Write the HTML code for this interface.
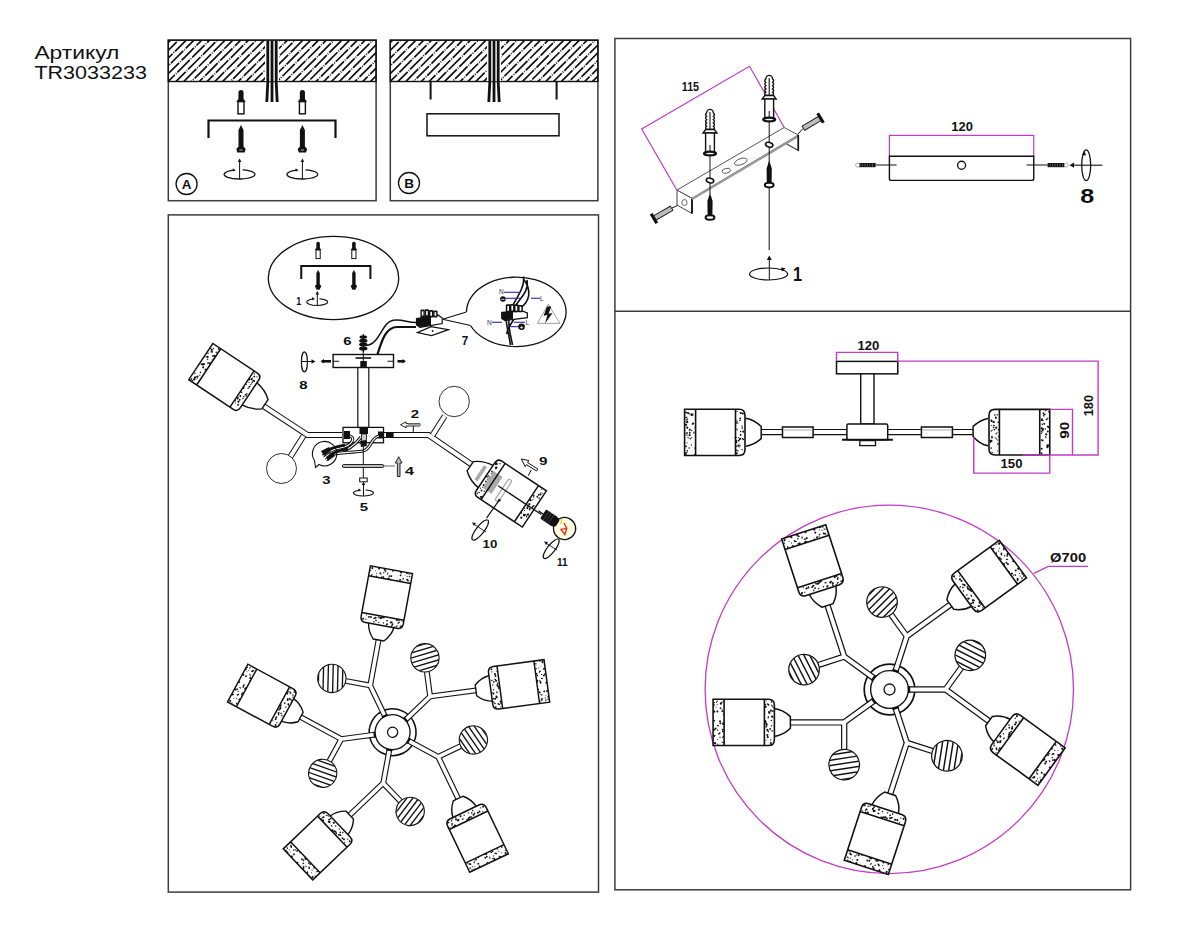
<!DOCTYPE html>
<html><head><meta charset="utf-8">
<style>
html,body{margin:0;padding:0;background:#fff;width:1200px;height:933px;overflow:hidden}
svg{display:block}
text{font-family:"Liberation Sans",sans-serif}
</style></head><body>
<svg width="1200" height="933" viewBox="0 0 1200 933">
<defs>
<pattern id="hatch" patternUnits="userSpaceOnUse" width="5.5" height="5.5" patternTransform="rotate(45)">
<line x1="1" y1="0" x2="1" y2="5.5" stroke="#111" stroke-width="1.5"/>
</pattern>
<g id="anchorUp">
<path d="M-2.2,7 L-2.2,-3 A2.2,2.2 0 0 1 2.2,-3 L2.2,7 Z" fill="#111"/>
<path d="M-3.6,10 L0,5 L3.6,10 Z" fill="#fff" stroke="#111" stroke-width="1.2"/>
<rect x="-2.6" y="10" width="5.2" height="14" fill="#fff" stroke="#111" stroke-width="1.4"/>
</g>
<g id="screwDown">
<path d="M0,0 L1.8,4 L1.8,22 L4,25 L3,28 L-3,28 L-4,25 L-1.8,22 L-1.8,4 Z" fill="#111"/>
</g>
<g id="rotArrow">
<ellipse cx="0" cy="0" rx="15" ry="4.6" fill="none" stroke="#111" stroke-width="1.2"/>
<line x1="0" y1="4.6" x2="0" y2="-14" stroke="#111" stroke-width="1.1"/>
<path d="M-2.2,-12 L0,-16 L2.2,-12 Z" fill="#111"/>
</g>
<!--CHDEFS-->
<pattern id="stip" patternUnits="userSpaceOnUse" width="24" height="24"><g fill="#111"><circle cx="7.8" cy="3.6" r="1.14"/><circle cx="1.7" cy="12.9" r="0.97"/><circle cx="1.4" cy="12.2" r="0.77"/><circle cx="10.4" cy="1.7" r="0.80"/><circle cx="10.2" cy="19.8" r="0.82"/><circle cx="5.4" cy="15.1" r="1.32"/><circle cx="13.9" cy="9.5" r="1.34"/><circle cx="1.1" cy="20.6" r="0.92"/><circle cx="3.5" cy="2.8" r="0.94"/><circle cx="19.6" cy="4.3" r="1.10"/><circle cx="15.3" cy="8.9" r="1.08"/><circle cx="1.5" cy="1.4" r="0.87"/><circle cx="16.3" cy="10.3" r="0.94"/><circle cx="14.1" cy="10.9" r="0.93"/><circle cx="19.1" cy="16.8" r="0.90"/><circle cx="13.8" cy="12.6" r="1.28"/><circle cx="17.5" cy="6.9" r="1.34"/><circle cx="2.8" cy="10.0" r="1.20"/><circle cx="3.6" cy="11.7" r="0.77"/><circle cx="16.0" cy="18.3" r="1.09"/><circle cx="21.0" cy="7.5" r="1.17"/><circle cx="14.3" cy="13.9" r="1.02"/><circle cx="20.2" cy="22.7" r="1.03"/><circle cx="15.9" cy="1.5" r="1.17"/><circle cx="15.5" cy="23.8" r="1.24"/><circle cx="6.8" cy="9.3" r="1.15"/><circle cx="0.5" cy="11.1" r="0.85"/><circle cx="2.8" cy="1.4" r="1.21"/><circle cx="3.1" cy="5.9" r="0.98"/><circle cx="20.9" cy="1.9" r="1.02"/><circle cx="13.2" cy="21.2" r="1.24"/><circle cx="20.7" cy="6.7" r="1.00"/><circle cx="8.6" cy="21.2" r="1.32"/><circle cx="3.6" cy="4.2" r="0.89"/><circle cx="5.6" cy="11.6" r="1.10"/><circle cx="6.3" cy="0.1" r="1.00"/><path d="M8.9,13.6 l-1.8,0.3" stroke="#111" stroke-width="1.5"/><path d="M16.6,12.4 l-0.6,1.7" stroke="#111" stroke-width="1.5"/><path d="M16.2,1.3 l-1.7,0.6" stroke="#111" stroke-width="1.5"/><path d="M18.7,21.0 l-1.4,1.1" stroke="#111" stroke-width="1.5"/><path d="M9.4,9.6 l1.7,0.6" stroke="#111" stroke-width="1.5"/><path d="M15.2,1.5 l1.8,0.4" stroke="#111" stroke-width="1.5"/><path d="M5.0,3.9 l0.9,1.6" stroke="#111" stroke-width="1.5"/><path d="M1.3,0.0 l1.6,0.8" stroke="#111" stroke-width="1.5"/><path d="M2.4,8.7 l1.8,0.1" stroke="#111" stroke-width="1.5"/><path d="M21.0,14.7 l1.6,0.8" stroke="#111" stroke-width="1.5"/><path d="M6.1,8.3 l0.7,1.6" stroke="#111" stroke-width="1.5"/><path d="M2.9,20.4 l-1.8,0.0" stroke="#111" stroke-width="1.5"/></g></pattern><pattern id="ghatch" patternUnits="userSpaceOnUse" width="5" height="5" patternTransform="rotate(36)"><line x1="0" y1="1" x2="5" y2="1" stroke="#111" stroke-width="1.6"/></pattern><g id="armR">
<path d="M19,0 L56.00,0.00 L99.53,31.62 M56.00,0.00 L71.81,-21.76" fill="none" stroke="#111" stroke-width="6.3" stroke-linejoin="miter"/>
<path d="M18,0 L56.00,0.00 L100.53,32.32 M56.00,0.00 L72.41,-22.56" fill="none" stroke="#fff" stroke-width="3.9" stroke-linejoin="miter"/>
<circle cx="80.80" cy="-34.14" r="15.3" fill="#fff"/>
<clipPath id="gclip_armR"><circle r="15.0"/></clipPath>
<g transform="translate(80.80,-34.14)"><g clip-path="url(#gclip_armR)"><g transform="rotate(27)" stroke="#111" stroke-width="1.45"><line x1="-17" y1="-14.40" x2="17" y2="-14.40" stroke-dashoffset="-16.3"/><line x1="-17" y1="-9.20" x2="17" y2="-9.20" stroke-dashoffset="-10.2"/><line x1="-17" y1="-4.00" x2="17" y2="-4.00" stroke-dashoffset="-4.1"/><line x1="-17" y1="1.20" x2="17" y2="1.20" stroke-dashoffset="2.0"/><line x1="-17" y1="6.40" x2="17" y2="6.40" stroke-dashoffset="8.1"/><line x1="-17" y1="11.60" x2="17" y2="11.60" stroke-dashoffset="14.2"/></g></g><circle r="15.3" fill="none" stroke="#111" stroke-width="1.2"/></g>
<g transform="translate(99.53,31.62) rotate(36)">
<path d="M16.5,-14 Q7,-12.8 0,-5.8 L0,5.8 Q7,12.8 16.5,14" fill="#fff" stroke="#111" stroke-width="1.5"/>
<path d="M22,-23.15 L77.3,-23.15 L77.3,23.15 L22,23.15 Q16,23.15 16,17.15 L16,-17.15 Q16,-23.15 22,-23.15 Z" fill="#fff"/>
<g fill="#111"><circle cx="19.08" cy="1.94" r="0.74"/><circle cx="22.11" cy="5.51" r="0.54"/><circle cx="17.21" cy="14.78" r="0.67"/><circle cx="19.04" cy="21.71" r="0.81"/><circle cx="24.04" cy="-1.04" r="0.92"/><circle cx="18.35" cy="5.91" r="1.06"/><circle cx="21.44" cy="10.57" r="0.94"/><circle cx="17.63" cy="11.31" r="0.88"/><circle cx="19.60" cy="-20.54" r="1.06"/><circle cx="21.02" cy="9.58" r="1.07"/><circle cx="23.03" cy="18.44" r="0.76"/><circle cx="23.75" cy="-2.43" r="1.11"/><circle cx="24.39" cy="-17.63" r="0.59"/><circle cx="18.90" cy="20.39" r="0.78"/><circle cx="22.30" cy="-8.72" r="0.83"/><circle cx="20.30" cy="-6.53" r="0.88"/><circle cx="21.95" cy="17.70" r="0.94"/><circle cx="24.81" cy="15.61" r="1.14"/><circle cx="22.67" cy="-14.76" r="1.06"/><circle cx="25.11" cy="17.73" r="0.87"/><circle cx="23.02" cy="-12.65" r="1.04"/><circle cx="21.86" cy="-9.42" r="0.54"/><circle cx="24.19" cy="21.45" r="0.56"/><circle cx="23.74" cy="-3.92" r="0.60"/><circle cx="19.54" cy="11.77" r="1.07"/><circle cx="17.47" cy="5.02" r="0.53"/><circle cx="23.06" cy="-7.40" r="1.07"/><circle cx="25.24" cy="0.24" r="1.15"/><path d="M19.82,-18.19 l-0.38,1.17" stroke="#111" stroke-width="1.1"/><path d="M18.98,-3.96 l-0.46,1.28" stroke="#111" stroke-width="1.1"/><path d="M17.82,15.81 l1.19,1.80" stroke="#111" stroke-width="1.1"/><path d="M24.22,-5.26 l0.21,1.71" stroke="#111" stroke-width="1.1"/><path d="M22.33,4.11 l-0.34,1.79" stroke="#111" stroke-width="1.1"/><path d="M24.55,0.30 l0.41,1.88" stroke="#111" stroke-width="1.1"/><path d="M19.28,-8.55 l-1.72,0.12" stroke="#111" stroke-width="1.1"/></g>
<g fill="#111"><circle cx="73.00" cy="10.83" r="1.02"/><circle cx="76.14" cy="10.75" r="1.10"/><circle cx="67.18" cy="-1.54" r="1.11"/><circle cx="73.26" cy="17.96" r="0.57"/><circle cx="71.50" cy="-11.35" r="0.85"/><circle cx="72.52" cy="-21.81" r="0.64"/><circle cx="69.64" cy="18.65" r="1.00"/><circle cx="68.46" cy="13.31" r="0.59"/><circle cx="72.95" cy="-16.72" r="0.50"/><circle cx="75.44" cy="-13.02" r="0.64"/><circle cx="76.53" cy="16.68" r="0.69"/><circle cx="76.32" cy="1.76" r="0.94"/><circle cx="68.91" cy="19.76" r="0.95"/><circle cx="76.37" cy="17.64" r="0.69"/><circle cx="70.44" cy="-14.97" r="0.59"/><circle cx="67.54" cy="-8.90" r="0.89"/><circle cx="66.93" cy="7.97" r="0.72"/><circle cx="69.94" cy="14.27" r="0.81"/><circle cx="69.99" cy="-0.84" r="0.96"/><circle cx="67.46" cy="21.28" r="0.51"/><circle cx="74.25" cy="15.45" r="0.51"/><circle cx="74.62" cy="-5.99" r="0.88"/><circle cx="66.99" cy="-20.31" r="0.62"/><circle cx="76.26" cy="-13.60" r="0.99"/><circle cx="76.01" cy="19.80" r="0.72"/><circle cx="70.38" cy="1.11" r="1.00"/><circle cx="67.96" cy="11.13" r="1.02"/><circle cx="75.33" cy="-20.76" r="1.11"/><circle cx="67.79" cy="-7.13" r="0.90"/><circle cx="75.90" cy="-7.17" r="1.10"/><path d="M72.21,-8.25 l0.75,1.16" stroke="#111" stroke-width="1.1"/><path d="M68.00,-15.45 l-1.23,1.82" stroke="#111" stroke-width="1.1"/><path d="M68.75,-19.86 l-1.73,0.07" stroke="#111" stroke-width="1.1"/><path d="M70.95,-11.56 l-0.59,1.94" stroke="#111" stroke-width="1.1"/><path d="M71.40,-3.44 l2.08,0.37" stroke="#111" stroke-width="1.1"/><path d="M67.59,-0.28 l-1.16,0.65" stroke="#111" stroke-width="1.1"/><path d="M73.88,19.79 l-0.79,1.82" stroke="#111" stroke-width="1.1"/></g>
<path d="M22,-23.15 L77.3,-23.15 L77.3,23.15 L22,23.15 Q16,23.15 16,17.15 L16,-17.15 Q16,-23.15 22,-23.15 Z M26,-23.15 L26,23.15 M66.3,-23.15 L66.3,23.15" fill="none" stroke="#111" stroke-width="1.6"/>
</g>
</g><g id="armL">
<path d="M19,0 L56.00,0.00 L96.45,29.39 M56.00,0.00 L71.81,-21.76" fill="none" stroke="#111" stroke-width="6.3" stroke-linejoin="miter"/>
<path d="M18,0 L56.00,0.00 L97.45,30.09 M56.00,0.00 L72.41,-22.56" fill="none" stroke="#fff" stroke-width="3.9" stroke-linejoin="miter"/>
<circle cx="80.80" cy="-34.14" r="15.3" fill="#fff"/>
<clipPath id="gclip_armL"><circle r="15.0"/></clipPath>
<g transform="translate(80.80,-34.14)"><g clip-path="url(#gclip_armL)"><g transform="rotate(27)" stroke="#111" stroke-width="1.45"><line x1="-17" y1="-14.40" x2="17" y2="-14.40" stroke-dashoffset="-16.3"/><line x1="-17" y1="-9.20" x2="17" y2="-9.20" stroke-dashoffset="-10.2"/><line x1="-17" y1="-4.00" x2="17" y2="-4.00" stroke-dashoffset="-4.1"/><line x1="-17" y1="1.20" x2="17" y2="1.20" stroke-dashoffset="2.0"/><line x1="-17" y1="6.40" x2="17" y2="6.40" stroke-dashoffset="8.1"/><line x1="-17" y1="11.60" x2="17" y2="11.60" stroke-dashoffset="14.2"/></g></g><circle r="15.3" fill="none" stroke="#111" stroke-width="1.2"/></g>
<g transform="translate(96.45,29.39) rotate(36)">
<path d="M16.5,-14 Q7,-12.8 0,-5.8 L0,5.8 Q7,12.8 16.5,14" fill="#fff" stroke="#111" stroke-width="1.5"/>
<path d="M22,-23.15 L77.3,-23.15 L77.3,23.15 L22,23.15 Q16,23.15 16,17.15 L16,-17.15 Q16,-23.15 22,-23.15 Z" fill="#fff"/>
<g fill="#111"><circle cx="19.08" cy="1.94" r="0.74"/><circle cx="22.11" cy="5.51" r="0.54"/><circle cx="17.21" cy="14.78" r="0.67"/><circle cx="19.04" cy="21.71" r="0.81"/><circle cx="24.04" cy="-1.04" r="0.92"/><circle cx="18.35" cy="5.91" r="1.06"/><circle cx="21.44" cy="10.57" r="0.94"/><circle cx="17.63" cy="11.31" r="0.88"/><circle cx="19.60" cy="-20.54" r="1.06"/><circle cx="21.02" cy="9.58" r="1.07"/><circle cx="23.03" cy="18.44" r="0.76"/><circle cx="23.75" cy="-2.43" r="1.11"/><circle cx="24.39" cy="-17.63" r="0.59"/><circle cx="18.90" cy="20.39" r="0.78"/><circle cx="22.30" cy="-8.72" r="0.83"/><circle cx="20.30" cy="-6.53" r="0.88"/><circle cx="21.95" cy="17.70" r="0.94"/><circle cx="24.81" cy="15.61" r="1.14"/><circle cx="22.67" cy="-14.76" r="1.06"/><circle cx="25.11" cy="17.73" r="0.87"/><circle cx="23.02" cy="-12.65" r="1.04"/><circle cx="21.86" cy="-9.42" r="0.54"/><circle cx="24.19" cy="21.45" r="0.56"/><circle cx="23.74" cy="-3.92" r="0.60"/><circle cx="19.54" cy="11.77" r="1.07"/><circle cx="17.47" cy="5.02" r="0.53"/><circle cx="23.06" cy="-7.40" r="1.07"/><circle cx="25.24" cy="0.24" r="1.15"/><path d="M19.82,-18.19 l-0.38,1.17" stroke="#111" stroke-width="1.1"/><path d="M18.98,-3.96 l-0.46,1.28" stroke="#111" stroke-width="1.1"/><path d="M17.82,15.81 l1.19,1.80" stroke="#111" stroke-width="1.1"/><path d="M24.22,-5.26 l0.21,1.71" stroke="#111" stroke-width="1.1"/><path d="M22.33,4.11 l-0.34,1.79" stroke="#111" stroke-width="1.1"/><path d="M24.55,0.30 l0.41,1.88" stroke="#111" stroke-width="1.1"/><path d="M19.28,-8.55 l-1.72,0.12" stroke="#111" stroke-width="1.1"/></g>
<g fill="#111"><circle cx="73.00" cy="10.83" r="1.02"/><circle cx="76.14" cy="10.75" r="1.10"/><circle cx="67.18" cy="-1.54" r="1.11"/><circle cx="73.26" cy="17.96" r="0.57"/><circle cx="71.50" cy="-11.35" r="0.85"/><circle cx="72.52" cy="-21.81" r="0.64"/><circle cx="69.64" cy="18.65" r="1.00"/><circle cx="68.46" cy="13.31" r="0.59"/><circle cx="72.95" cy="-16.72" r="0.50"/><circle cx="75.44" cy="-13.02" r="0.64"/><circle cx="76.53" cy="16.68" r="0.69"/><circle cx="76.32" cy="1.76" r="0.94"/><circle cx="68.91" cy="19.76" r="0.95"/><circle cx="76.37" cy="17.64" r="0.69"/><circle cx="70.44" cy="-14.97" r="0.59"/><circle cx="67.54" cy="-8.90" r="0.89"/><circle cx="66.93" cy="7.97" r="0.72"/><circle cx="69.94" cy="14.27" r="0.81"/><circle cx="69.99" cy="-0.84" r="0.96"/><circle cx="67.46" cy="21.28" r="0.51"/><circle cx="74.25" cy="15.45" r="0.51"/><circle cx="74.62" cy="-5.99" r="0.88"/><circle cx="66.99" cy="-20.31" r="0.62"/><circle cx="76.26" cy="-13.60" r="0.99"/><circle cx="76.01" cy="19.80" r="0.72"/><circle cx="70.38" cy="1.11" r="1.00"/><circle cx="67.96" cy="11.13" r="1.02"/><circle cx="75.33" cy="-20.76" r="1.11"/><circle cx="67.79" cy="-7.13" r="0.90"/><circle cx="75.90" cy="-7.17" r="1.10"/><path d="M72.21,-8.25 l0.75,1.16" stroke="#111" stroke-width="1.1"/><path d="M68.00,-15.45 l-1.23,1.82" stroke="#111" stroke-width="1.1"/><path d="M68.75,-19.86 l-1.73,0.07" stroke="#111" stroke-width="1.1"/><path d="M70.95,-11.56 l-0.59,1.94" stroke="#111" stroke-width="1.1"/><path d="M71.40,-3.44 l2.08,0.37" stroke="#111" stroke-width="1.1"/><path d="M67.59,-0.28 l-1.16,0.65" stroke="#111" stroke-width="1.1"/><path d="M73.88,19.79 l-0.79,1.82" stroke="#111" stroke-width="1.1"/></g>
<path d="M22,-23.15 L77.3,-23.15 L77.3,23.15 L22,23.15 Q16,23.15 16,17.15 L16,-17.15 Q16,-23.15 22,-23.15 Z M26,-23.15 L26,23.15 M66.3,-23.15 L66.3,23.15" fill="none" stroke="#111" stroke-width="1.6"/>
</g>
</g><g id="chandR">
<circle r="25.3" fill="#fff" stroke="#111" stroke-width="1.7"/>
<use href="#armR" transform="rotate(0)"/><use href="#armR" transform="rotate(72)"/><use href="#armR" transform="rotate(144)"/><use href="#armR" transform="rotate(216)"/><use href="#armR" transform="rotate(288)"/>
<circle r="18.9" fill="#fff" stroke="#111" stroke-width="1.4"/>
<rect x="18.4" y="-3.2" width="2.3" height="6.4" fill="#111" transform="rotate(0)"/><rect x="18.4" y="-3.2" width="2.3" height="6.4" fill="#111" transform="rotate(72)"/><rect x="18.4" y="-3.2" width="2.3" height="6.4" fill="#111" transform="rotate(144)"/><rect x="18.4" y="-3.2" width="2.3" height="6.4" fill="#111" transform="rotate(216)"/><rect x="18.4" y="-3.2" width="2.3" height="6.4" fill="#111" transform="rotate(288)"/>
<circle r="5.5" fill="#fff" stroke="#111" stroke-width="1.3"/>
</g><g id="chandL">
<circle r="25.3" fill="#fff" stroke="#111" stroke-width="1.7"/>
<use href="#armL" transform="rotate(0)"/><use href="#armL" transform="rotate(72)"/><use href="#armL" transform="rotate(144)"/><use href="#armL" transform="rotate(216)"/><use href="#armL" transform="rotate(288)"/>
<circle r="18.9" fill="#fff" stroke="#111" stroke-width="1.4"/>
<rect x="18.4" y="-3.2" width="2.3" height="6.4" fill="#111" transform="rotate(0)"/><rect x="18.4" y="-3.2" width="2.3" height="6.4" fill="#111" transform="rotate(72)"/><rect x="18.4" y="-3.2" width="2.3" height="6.4" fill="#111" transform="rotate(144)"/><rect x="18.4" y="-3.2" width="2.3" height="6.4" fill="#111" transform="rotate(216)"/><rect x="18.4" y="-3.2" width="2.3" height="6.4" fill="#111" transform="rotate(288)"/>
<circle r="5.5" fill="#fff" stroke="#111" stroke-width="1.3"/>
</g>
<!--/CHDEFS-->
</defs>
<!-- title -->
<text x="34.4" y="58.8" font-size="18" fill="#111" textLength="85" lengthAdjust="spacingAndGlyphs">Артикул</text>
<text x="34.4" y="79.4" font-size="18" fill="#111" textLength="112.5" lengthAdjust="spacingAndGlyphs">TR3033233</text>

<!-- frames -->
<g fill="none" stroke="#3c3c3c" stroke-width="1.5">
<rect x="168.3" y="40.2" width="207.8" height="160.5"/>
<rect x="390.3" y="40.2" width="207.6" height="160.5"/>
<rect x="168.3" y="214.9" width="430.2" height="677.2"/>
<rect x="614.9" y="38.5" width="515.7" height="851.3"/>
<line x1="614.9" y1="311.2" x2="1130.6" y2="311.2"/>
</g>

<!--BOXES-->
<g id="boxes">
<clipPath id="hcA"><rect x="168.3" y="40.2" width="207.8" height="41.3"/></clipPath>
<g clip-path="url(#hcA)" stroke="#111" stroke-width="1.7" stroke-dasharray="17.5 1.3 0.9 1.3"><line x1="110.36" y1="38.20" x2="63.06" y2="85.50" stroke-dashoffset="0.0"/><line x1="118.14" y1="38.20" x2="70.84" y2="85.50" stroke-dashoffset="4.1"/><line x1="125.92" y1="38.20" x2="78.62" y2="85.50" stroke-dashoffset="8.2"/><line x1="133.70" y1="38.20" x2="86.40" y2="85.50" stroke-dashoffset="12.3"/><line x1="141.48" y1="38.20" x2="94.18" y2="85.50" stroke-dashoffset="16.4"/><line x1="149.26" y1="38.20" x2="101.96" y2="85.50" stroke-dashoffset="20.5"/><line x1="157.04" y1="38.20" x2="109.74" y2="85.50" stroke-dashoffset="3.6"/><line x1="164.82" y1="38.20" x2="117.52" y2="85.50" stroke-dashoffset="7.7"/><line x1="172.60" y1="38.20" x2="125.30" y2="85.50" stroke-dashoffset="11.8"/><line x1="180.38" y1="38.20" x2="133.08" y2="85.50" stroke-dashoffset="15.9"/><line x1="188.16" y1="38.20" x2="140.86" y2="85.50" stroke-dashoffset="20.0"/><line x1="195.94" y1="38.20" x2="148.64" y2="85.50" stroke-dashoffset="3.1"/><line x1="203.72" y1="38.20" x2="156.42" y2="85.50" stroke-dashoffset="7.2"/><line x1="211.50" y1="38.20" x2="164.20" y2="85.50" stroke-dashoffset="11.3"/><line x1="219.28" y1="38.20" x2="171.98" y2="85.50" stroke-dashoffset="15.4"/><line x1="227.06" y1="38.20" x2="179.76" y2="85.50" stroke-dashoffset="19.5"/><line x1="234.84" y1="38.20" x2="187.54" y2="85.50" stroke-dashoffset="2.6"/><line x1="242.62" y1="38.20" x2="195.32" y2="85.50" stroke-dashoffset="6.7"/><line x1="250.40" y1="38.20" x2="203.10" y2="85.50" stroke-dashoffset="10.8"/><line x1="258.18" y1="38.20" x2="210.88" y2="85.50" stroke-dashoffset="14.9"/><line x1="265.96" y1="38.20" x2="218.66" y2="85.50" stroke-dashoffset="19.0"/><line x1="273.74" y1="38.20" x2="226.44" y2="85.50" stroke-dashoffset="2.1"/><line x1="281.52" y1="38.20" x2="234.22" y2="85.50" stroke-dashoffset="6.2"/><line x1="289.30" y1="38.20" x2="242.00" y2="85.50" stroke-dashoffset="10.3"/><line x1="297.08" y1="38.20" x2="249.78" y2="85.50" stroke-dashoffset="14.4"/><line x1="304.86" y1="38.20" x2="257.56" y2="85.50" stroke-dashoffset="18.5"/><line x1="312.64" y1="38.20" x2="265.34" y2="85.50" stroke-dashoffset="1.6"/><line x1="320.42" y1="38.20" x2="273.12" y2="85.50" stroke-dashoffset="5.7"/><line x1="328.20" y1="38.20" x2="280.90" y2="85.50" stroke-dashoffset="9.8"/><line x1="335.98" y1="38.20" x2="288.68" y2="85.50" stroke-dashoffset="13.9"/><line x1="343.76" y1="38.20" x2="296.46" y2="85.50" stroke-dashoffset="18.0"/><line x1="351.54" y1="38.20" x2="304.24" y2="85.50" stroke-dashoffset="1.1"/><line x1="359.32" y1="38.20" x2="312.02" y2="85.50" stroke-dashoffset="5.2"/><line x1="367.10" y1="38.20" x2="319.80" y2="85.50" stroke-dashoffset="9.3"/><line x1="374.88" y1="38.20" x2="327.58" y2="85.50" stroke-dashoffset="13.4"/><line x1="382.66" y1="38.20" x2="335.36" y2="85.50" stroke-dashoffset="17.5"/><line x1="390.44" y1="38.20" x2="343.14" y2="85.50" stroke-dashoffset="0.6"/><line x1="398.22" y1="38.20" x2="350.92" y2="85.50" stroke-dashoffset="4.7"/><line x1="406.00" y1="38.20" x2="358.70" y2="85.50" stroke-dashoffset="8.8"/><line x1="413.78" y1="38.20" x2="366.48" y2="85.50" stroke-dashoffset="12.9"/><line x1="421.56" y1="38.20" x2="374.26" y2="85.50" stroke-dashoffset="17.0"/></g>
<rect x="168.3" y="40.2" width="207.8" height="41.3" fill="none" stroke="#111" stroke-width="1.4"/>
<rect x="265" y="40.9" width="14" height="40.3" fill="#fff"/>
<g stroke="#111" stroke-width="2.8" fill="none">
<path d="M267.8,40.5 L267.8,82 L266.8,102"/><path d="M272,40.5 L272,102"/><path d="M276.2,40.5 L276.2,82 L277.2,102"/>
</g>
<g transform="translate(241,90) scale(1.42)">
<path d="M-1.8,7.5 L-1.8,1.8 A1.8,1.8 0 0 1 1.8,1.8 L1.8,7.5 Z" fill="#111"/>
<path d="M-3.4,8.2 L-1.6,6.2 L1.6,6.2 L3.4,8.2 Z" fill="#111"/>
<rect x="-2.1" y="8.2" width="4.2" height="8.6" fill="#fff" stroke="#111" stroke-width="1"/>
</g><g transform="translate(302.4,90) scale(1.42)">
<path d="M-1.8,7.5 L-1.8,1.8 A1.8,1.8 0 0 1 1.8,1.8 L1.8,7.5 Z" fill="#111"/>
<path d="M-3.4,8.2 L-1.6,6.2 L1.6,6.2 L3.4,8.2 Z" fill="#111"/>
<rect x="-2.1" y="8.2" width="4.2" height="8.6" fill="#fff" stroke="#111" stroke-width="1"/>
</g>
<path d="M208.5,138 L208.5,120.5 L335.5,120.5 L335.5,138" fill="none" stroke="#111" stroke-width="2.2"/>
<path d="M241,125 L243.5,130 L243.5,146.5 L245.7,149 L244.6,152.5 L237.4,152.5 L236.3,149 L238.5,146.5 L238.5,130 Z" fill="#111"/>
<path d="M239.4,150 L242.6,150" stroke="#fff" stroke-width="0.7"/><path d="M302.4,125 L304.9,130 L304.9,146.5 L307.09999999999997,149 L306.0,152.5 L298.79999999999995,152.5 L297.7,149 L299.9,146.5 L299.9,130 Z" fill="#111"/>
<path d="M300.79999999999995,150 L304.0,150" stroke="#fff" stroke-width="0.7"/>
<g>
<path d="M234.21,170.076 A15.4,4.6 0 1 0 242.68,169.892" fill="none" stroke="#111" stroke-width="1.3"/>
<path d="M232.78,168.20000000000002 L235.78,170.26000000000002 L232.98,171.4 Z" fill="#111"/>
<line x1="239.6" y1="179.0" x2="239.6" y2="160.9" stroke="#111" stroke-width="1"/>
<path d="M237.79999999999998,161.9 L239.6,158.4 L241.4,161.9 Z" fill="#111"/>
</g>
<g>
<path d="M297.01,170.076 A15.4,4.6 0 1 0 305.47999999999996,169.892" fill="none" stroke="#111" stroke-width="1.3"/>
<path d="M295.58,168.20000000000002 L298.58,170.26000000000002 L295.78,171.4 Z" fill="#111"/>
<line x1="302.4" y1="179.0" x2="302.4" y2="160.9" stroke="#111" stroke-width="1"/>
<path d="M300.59999999999997,161.9 L302.4,158.4 L304.2,161.9 Z" fill="#111"/>
</g>
<circle cx="186.6" cy="184" r="10.5" fill="none" stroke="#111" stroke-width="1.3"/>
<text x="186.6" y="188.8" font-family="Liberation Sans" font-size="13.5" font-weight="bold" text-anchor="middle" fill="#111">A</text>

<clipPath id="hcB"><rect x="390.3" y="40.2" width="207.6" height="41.3"/></clipPath>
<g clip-path="url(#hcB)" stroke="#111" stroke-width="1.7" stroke-dasharray="17.5 1.3 0.9 1.3"><line x1="332.36" y1="38.20" x2="285.06" y2="85.50" stroke-dashoffset="0.0"/><line x1="340.14" y1="38.20" x2="292.84" y2="85.50" stroke-dashoffset="4.1"/><line x1="347.92" y1="38.20" x2="300.62" y2="85.50" stroke-dashoffset="8.2"/><line x1="355.70" y1="38.20" x2="308.40" y2="85.50" stroke-dashoffset="12.3"/><line x1="363.48" y1="38.20" x2="316.18" y2="85.50" stroke-dashoffset="16.4"/><line x1="371.26" y1="38.20" x2="323.96" y2="85.50" stroke-dashoffset="20.5"/><line x1="379.04" y1="38.20" x2="331.74" y2="85.50" stroke-dashoffset="3.6"/><line x1="386.82" y1="38.20" x2="339.52" y2="85.50" stroke-dashoffset="7.7"/><line x1="394.60" y1="38.20" x2="347.30" y2="85.50" stroke-dashoffset="11.8"/><line x1="402.38" y1="38.20" x2="355.08" y2="85.50" stroke-dashoffset="15.9"/><line x1="410.16" y1="38.20" x2="362.86" y2="85.50" stroke-dashoffset="20.0"/><line x1="417.94" y1="38.20" x2="370.64" y2="85.50" stroke-dashoffset="3.1"/><line x1="425.72" y1="38.20" x2="378.42" y2="85.50" stroke-dashoffset="7.2"/><line x1="433.50" y1="38.20" x2="386.20" y2="85.50" stroke-dashoffset="11.3"/><line x1="441.28" y1="38.20" x2="393.98" y2="85.50" stroke-dashoffset="15.4"/><line x1="449.06" y1="38.20" x2="401.76" y2="85.50" stroke-dashoffset="19.5"/><line x1="456.84" y1="38.20" x2="409.54" y2="85.50" stroke-dashoffset="2.6"/><line x1="464.62" y1="38.20" x2="417.32" y2="85.50" stroke-dashoffset="6.7"/><line x1="472.40" y1="38.20" x2="425.10" y2="85.50" stroke-dashoffset="10.8"/><line x1="480.18" y1="38.20" x2="432.88" y2="85.50" stroke-dashoffset="14.9"/><line x1="487.96" y1="38.20" x2="440.66" y2="85.50" stroke-dashoffset="19.0"/><line x1="495.74" y1="38.20" x2="448.44" y2="85.50" stroke-dashoffset="2.1"/><line x1="503.52" y1="38.20" x2="456.22" y2="85.50" stroke-dashoffset="6.2"/><line x1="511.30" y1="38.20" x2="464.00" y2="85.50" stroke-dashoffset="10.3"/><line x1="519.08" y1="38.20" x2="471.78" y2="85.50" stroke-dashoffset="14.4"/><line x1="526.86" y1="38.20" x2="479.56" y2="85.50" stroke-dashoffset="18.5"/><line x1="534.64" y1="38.20" x2="487.34" y2="85.50" stroke-dashoffset="1.6"/><line x1="542.42" y1="38.20" x2="495.12" y2="85.50" stroke-dashoffset="5.7"/><line x1="550.20" y1="38.20" x2="502.90" y2="85.50" stroke-dashoffset="9.8"/><line x1="557.98" y1="38.20" x2="510.68" y2="85.50" stroke-dashoffset="13.9"/><line x1="565.76" y1="38.20" x2="518.46" y2="85.50" stroke-dashoffset="18.0"/><line x1="573.54" y1="38.20" x2="526.24" y2="85.50" stroke-dashoffset="1.1"/><line x1="581.32" y1="38.20" x2="534.02" y2="85.50" stroke-dashoffset="5.2"/><line x1="589.10" y1="38.20" x2="541.80" y2="85.50" stroke-dashoffset="9.3"/><line x1="596.88" y1="38.20" x2="549.58" y2="85.50" stroke-dashoffset="13.4"/><line x1="604.66" y1="38.20" x2="557.36" y2="85.50" stroke-dashoffset="17.5"/><line x1="612.44" y1="38.20" x2="565.14" y2="85.50" stroke-dashoffset="0.6"/><line x1="620.22" y1="38.20" x2="572.92" y2="85.50" stroke-dashoffset="4.7"/><line x1="628.00" y1="38.20" x2="580.70" y2="85.50" stroke-dashoffset="8.8"/><line x1="635.78" y1="38.20" x2="588.48" y2="85.50" stroke-dashoffset="12.9"/><line x1="643.56" y1="38.20" x2="596.26" y2="85.50" stroke-dashoffset="17.0"/></g>
<rect x="390.3" y="40.2" width="207.6" height="41.3" fill="none" stroke="#111" stroke-width="1.4"/>
<rect x="487" y="40.9" width="14" height="40.3" fill="#fff"/>
<g stroke="#111" stroke-width="2.8" fill="none">
<path d="M489.8,40.5 L489.8,82 L488.8,102"/><path d="M494,40.5 L494,102"/><path d="M498.2,40.5 L498.2,82 L499.2,102"/>
</g>
<path d="M430.6,82 L430.6,99.6 M556.6,82 L556.6,99.6" stroke="#111" stroke-width="2"/>
<rect x="427" y="113.8" width="132" height="22" fill="none" stroke="#111" stroke-width="1.5"/>
<circle cx="409" cy="183" r="10.5" fill="none" stroke="#111" stroke-width="1.3"/>
<text x="409" y="187.8" font-family="Liberation Sans" font-size="13.5" font-weight="bold" text-anchor="middle" fill="#111">B</text>
</g>
<!--/BOXES-->
<!--CHINST-->
<circle cx="889.3" cy="689.35" r="184.2" fill="none" stroke="#c23cc6" stroke-width="1.3"/>
<use href="#chandR" transform="translate(889.5,689.5)"/>
<use href="#chandL" transform="translate(392.6,732.2) rotate(28.4) scale(0.925)"/>

<!--/CHINST-->
<!--SIDE-->
<g id="side">
<!-- arms -->
<path d="M760,432.1 L847,432.1 M887.7,432.1 L975,432.1" stroke="#111" stroke-width="6.4" fill="none"/>
<path d="M760,432.1 L847,432.1 M887.7,432.1 L975,432.1" stroke="#fff" stroke-width="4" fill="none"/>
<rect x="782.5" y="427" width="30.6" height="10.5" fill="#fff" stroke="#111" stroke-width="1.5"/>
<line x1="783" y1="430" x2="812.6" y2="430" stroke="#999" stroke-width="0.8"/>
<rect x="921.4" y="427" width="31" height="10.5" fill="#fff" stroke="#111" stroke-width="1.5"/>
<line x1="922" y1="430" x2="952" y2="430" stroke="#999" stroke-width="0.8"/>
<path d="M745.9,418.3 Q754,419.8 761.2,426.5 L761.2,438.6 Q754,445.0 745.9,446.2" fill="#fff" stroke="#111" stroke-width="1.5"/>
<path d="M684.6,409.3 L739,409.3 Q745,409.3 745,415.3 L745,449.5 Q745,455.5 739,455.5 L684.6,455.5 Z" fill="#fff"/><g fill="#111"><circle cx="689.63" cy="435.09" r="1.10"/><circle cx="689.76" cy="432.75" r="0.88"/><circle cx="687.01" cy="432.94" r="0.91"/><circle cx="692.97" cy="414.14" r="0.70"/><circle cx="686.09" cy="446.33" r="0.95"/><circle cx="685.61" cy="454.10" r="1.13"/><circle cx="691.61" cy="437.60" r="0.60"/><circle cx="685.35" cy="433.68" r="0.54"/><circle cx="687.06" cy="420.79" r="0.52"/><circle cx="689.75" cy="429.72" r="1.05"/><circle cx="690.29" cy="438.71" r="0.82"/><circle cx="691.69" cy="430.48" r="0.68"/><circle cx="694.98" cy="454.71" r="1.05"/><circle cx="692.14" cy="424.09" r="0.65"/><circle cx="688.03" cy="413.06" r="1.00"/><circle cx="689.12" cy="448.00" r="0.75"/><circle cx="694.59" cy="448.03" r="0.50"/><circle cx="687.26" cy="450.86" r="0.81"/><circle cx="694.81" cy="427.78" r="0.55"/><circle cx="691.37" cy="444.93" r="0.68"/><circle cx="686.05" cy="424.87" r="1.13"/><circle cx="692.63" cy="415.21" r="0.66"/><circle cx="686.19" cy="412.60" r="1.02"/><circle cx="686.94" cy="435.07" r="0.79"/><circle cx="687.07" cy="442.84" r="0.59"/><circle cx="691.51" cy="415.14" r="0.77"/><circle cx="687.29" cy="422.04" r="1.13"/><circle cx="693.07" cy="423.59" r="1.08"/><circle cx="687.26" cy="427.64" r="1.06"/><circle cx="691.49" cy="414.41" r="1.14"/><path d="M687.52,421.72 l-1.16,1.00" stroke="#111" stroke-width="1.1"/><path d="M688.27,413.54 l1.71,0.50" stroke="#111" stroke-width="1.1"/><path d="M687.79,436.88 l0.65,1.52" stroke="#111" stroke-width="1.1"/><path d="M694.23,431.68 l-0.48,2.01" stroke="#111" stroke-width="1.1"/><path d="M687.25,417.11 l-1.93,0.57" stroke="#111" stroke-width="1.1"/><path d="M687.85,418.69 l-1.46,1.56" stroke="#111" stroke-width="1.1"/><path d="M687.37,452.30 l-1.68,0.65" stroke="#111" stroke-width="1.1"/></g><g fill="#111"><circle cx="739.66" cy="439.17" r="0.93"/><circle cx="737.17" cy="411.37" r="0.74"/><circle cx="738.16" cy="445.74" r="0.95"/><circle cx="740.61" cy="434.90" r="0.93"/><circle cx="737.19" cy="429.82" r="0.61"/><circle cx="742.89" cy="413.43" r="1.03"/><circle cx="736.66" cy="440.44" r="0.72"/><circle cx="739.13" cy="447.12" r="0.51"/><circle cx="736.56" cy="450.25" r="0.83"/><circle cx="736.78" cy="453.35" r="1.12"/><circle cx="736.94" cy="429.10" r="0.59"/><circle cx="738.44" cy="437.62" r="0.61"/><circle cx="741.33" cy="413.11" r="0.61"/><circle cx="742.22" cy="428.12" r="0.77"/><circle cx="740.57" cy="431.40" r="0.75"/><circle cx="736.33" cy="442.13" r="1.13"/><circle cx="743.42" cy="439.43" r="0.73"/><circle cx="738.82" cy="440.57" r="0.94"/><circle cx="736.95" cy="421.00" r="0.74"/><circle cx="739.94" cy="445.73" r="0.83"/><circle cx="736.31" cy="446.27" r="0.78"/><circle cx="739.99" cy="420.45" r="0.78"/><circle cx="739.01" cy="444.09" r="0.57"/><circle cx="740.22" cy="418.56" r="0.95"/><circle cx="736.38" cy="422.79" r="0.72"/><circle cx="740.88" cy="413.14" r="0.80"/><circle cx="737.67" cy="423.02" r="0.81"/><circle cx="743.29" cy="431.58" r="1.12"/><path d="M737.62,450.30 l0.57,1.26" stroke="#111" stroke-width="1.1"/><path d="M741.52,449.79 l1.47,0.03" stroke="#111" stroke-width="1.1"/><path d="M741.66,425.72 l0.88,0.83" stroke="#111" stroke-width="1.1"/><path d="M736.77,437.43 l-2.20,0.11" stroke="#111" stroke-width="1.1"/><path d="M739.87,412.31 l1.05,1.69" stroke="#111" stroke-width="1.1"/><path d="M742.07,438.28 l1.30,1.14" stroke="#111" stroke-width="1.1"/><path d="M739.70,437.76 l1.46,1.58" stroke="#111" stroke-width="1.1"/></g>
<path d="M684.6,409.3 L739,409.3 Q745,409.3 745,415.3 L745,449.5 Q745,455.5 739,455.5 L684.6,455.5 Z M695.6,409.3 L695.6,455.5 M735.5,409.3 L735.5,455.5" fill="none" stroke="#111" stroke-width="1.6"/>
<path d="M988.1,418.4 Q980,419.9 973.1,426.4 L973.1,436.5 Q980,444.5 988.1,445.7" fill="#fff" stroke="#111" stroke-width="1.5"/>
<path d="M1049.75,409.4 L995,409.4 Q989,409.4 989,415.4 L989,449 Q989,455 995,455 L1049.75,455 Z" fill="#fff"/><g fill="#111"><circle cx="1042.63" cy="440.43" r="0.94"/><circle cx="1047.82" cy="418.25" r="0.65"/><circle cx="1041.65" cy="420.00" r="0.98"/><circle cx="1041.50" cy="433.59" r="0.64"/><circle cx="1042.94" cy="429.16" r="1.04"/><circle cx="1045.70" cy="410.64" r="0.68"/><circle cx="1041.64" cy="448.69" r="1.03"/><circle cx="1047.44" cy="446.69" r="0.98"/><circle cx="1048.70" cy="445.24" r="0.67"/><circle cx="1047.83" cy="431.61" r="0.99"/><circle cx="1045.31" cy="429.07" r="0.74"/><circle cx="1044.13" cy="423.93" r="0.58"/><circle cx="1047.56" cy="445.44" r="1.14"/><circle cx="1046.43" cy="434.61" r="0.99"/><circle cx="1041.54" cy="440.05" r="0.79"/><circle cx="1041.90" cy="419.00" r="0.84"/><circle cx="1042.58" cy="430.40" r="0.89"/><circle cx="1043.83" cy="415.81" r="0.82"/><circle cx="1042.42" cy="420.46" r="0.63"/><circle cx="1043.57" cy="413.25" r="0.92"/><circle cx="1048.74" cy="427.30" r="0.97"/><circle cx="1048.56" cy="411.92" r="0.59"/><circle cx="1047.44" cy="447.21" r="0.92"/><circle cx="1041.76" cy="428.36" r="1.06"/><circle cx="1048.15" cy="445.66" r="0.63"/><circle cx="1047.86" cy="426.64" r="0.97"/><circle cx="1041.56" cy="453.13" r="0.89"/><circle cx="1046.71" cy="419.40" r="0.90"/><path d="M1045.40,436.18 l0.82,1.74" stroke="#111" stroke-width="1.1"/><path d="M1043.48,423.28 l1.64,0.93" stroke="#111" stroke-width="1.1"/><path d="M1041.65,420.23 l1.80,0.40" stroke="#111" stroke-width="1.1"/><path d="M1045.20,434.09 l1.63,0.20" stroke="#111" stroke-width="1.1"/><path d="M1043.49,414.44 l2.20,0.02" stroke="#111" stroke-width="1.1"/><path d="M1041.72,423.55 l1.19,1.34" stroke="#111" stroke-width="1.1"/><path d="M1041.37,430.89 l0.83,1.86" stroke="#111" stroke-width="1.1"/></g><g fill="#111"><circle cx="991.30" cy="440.79" r="0.92"/><circle cx="998.30" cy="422.50" r="0.67"/><circle cx="996.57" cy="438.92" r="0.70"/><circle cx="996.15" cy="427.82" r="1.01"/><circle cx="991.39" cy="420.47" r="1.09"/><circle cx="993.41" cy="422.04" r="1.02"/><circle cx="995.71" cy="417.35" r="0.86"/><circle cx="995.98" cy="417.99" r="0.92"/><circle cx="991.43" cy="425.29" r="0.55"/><circle cx="992.12" cy="452.47" r="0.76"/><circle cx="998.72" cy="429.60" r="0.89"/><circle cx="997.73" cy="440.12" r="0.57"/><circle cx="995.35" cy="437.87" r="0.62"/><circle cx="991.20" cy="448.09" r="0.83"/><circle cx="992.03" cy="430.19" r="0.64"/><circle cx="997.11" cy="432.22" r="0.57"/><circle cx="997.27" cy="414.80" r="0.68"/><circle cx="990.64" cy="442.39" r="0.57"/><circle cx="994.82" cy="414.94" r="0.81"/><circle cx="996.16" cy="433.68" r="0.80"/><circle cx="994.47" cy="429.53" r="0.89"/><circle cx="991.20" cy="431.12" r="0.65"/><circle cx="997.67" cy="450.81" r="0.54"/><circle cx="991.60" cy="440.83" r="0.87"/><circle cx="990.56" cy="440.89" r="1.11"/><circle cx="993.95" cy="425.73" r="0.87"/><circle cx="998.29" cy="422.17" r="0.70"/><circle cx="991.99" cy="437.64" r="0.81"/><path d="M992.75,427.54 l1.50,0.16" stroke="#111" stroke-width="1.1"/><path d="M998.27,435.78 l1.35,1.66" stroke="#111" stroke-width="1.1"/><path d="M993.52,421.86 l1.34,0.15" stroke="#111" stroke-width="1.1"/><path d="M992.31,420.97 l-1.35,0.57" stroke="#111" stroke-width="1.1"/><path d="M992.69,436.52 l-1.44,0.38" stroke="#111" stroke-width="1.1"/><path d="M996.59,426.74 l-0.34,1.76" stroke="#111" stroke-width="1.1"/><path d="M997.96,442.90 l-0.05,2.04" stroke="#111" stroke-width="1.1"/></g>
<path d="M1049.75,409.4 L995,409.4 Q989,409.4 989,415.4 L989,449 Q989,455 995,455 L1049.75,455 Z M1039.75,409.4 L1039.75,455 M999.4,409.4 L999.4,455" fill="none" stroke="#111" stroke-width="1.6"/>
<!-- canopy+stem -->
<rect x="836.5" y="361.4" width="61.25" height="12.45" fill="#fff" stroke="#111" stroke-width="1.5"/>
<rect x="860.7" y="373.85" width="13.3" height="50.15" fill="#fff" stroke="#111" stroke-width="1.4"/>
<rect x="846.9" y="424" width="40.8" height="15.85" rx="1.5" fill="#fff" stroke="#111" stroke-width="1.5"/>
<line x1="842" y1="439.85" x2="892.9" y2="439.85" stroke="#111" stroke-width="2"/>
<rect x="859.8" y="440.6" width="15.7" height="5" fill="#fff" stroke="#111" stroke-width="1.3"/>
<!-- dims -->
<g fill="none" stroke="#c23cc6" stroke-width="1.4">
<path d="M836.5,361 L836.5,352.4 L897.75,352.4 L897.75,361.1 L1098.1,361.1 L1098.1,455 L1022.5,455"/>
<path d="M1049.75,409.4 L1072.5,409.4 L1072.5,455"/>
<path d="M973.75,437 L973.75,473.1 L1049.75,473.1 L1049.75,455"/>
</g>
<g font-family="Liberation Sans" font-weight="bold" font-size="12.6" fill="#111" text-anchor="middle">
<text x="868.4" y="349.8" textLength="21.9" lengthAdjust="spacingAndGlyphs">120</text>
<text x="1011.5" y="468.1" textLength="21.9" lengthAdjust="spacingAndGlyphs">150</text>
<text transform="translate(1068.75,430.3) rotate(-90)" x="0" y="0" textLength="16.9" lengthAdjust="spacingAndGlyphs">90</text>
<text transform="translate(1093.1,405.6) rotate(-90)" x="0" y="0" textLength="21.25" lengthAdjust="spacingAndGlyphs">180</text>
</g>
<!-- diameter label -->
<path d="M1034,573.4 L1048.3,566.4 L1088,566.4" fill="none" stroke="#c23cc6" stroke-width="1.3"/>
<text x="1050.1" y="561.75" font-family="Liberation Sans" font-weight="bold" font-size="12.4" fill="#111" textLength="36" lengthAdjust="spacingAndGlyphs">Ø700</text>
</g>
<!--/SIDE-->
<!--TOPRIGHT-->
<g id="topright">
<path d="M676.8,190 L641.7,129 L749.5,66.2 L784.2,127.5" fill="none" stroke="#c23cc6" stroke-width="1.2"/>
<text x="690.4" y="90.8" font-family="Liberation Sans" font-weight="bold" font-size="12" fill="#111" text-anchor="middle" textLength="17.2" lengthAdjust="spacingAndGlyphs">115</text>
<line x1="672" y1="208" x2="684.2" y2="202.5" stroke="#111" stroke-width="1"/>
<line x1="654" y1="218.5" x2="672" y2="208" stroke="#111" stroke-width="6"/>
<line x1="654.6910231207188" y1="218.09690317958072" x2="671.3089768792812" y2="208.40309682041928" stroke="#bbb" stroke-width="4"/>
<line x1="656.7712906403825" y1="223.2507839549414" x2="651.2287093596175" y2="213.7492160450586" stroke="#111" stroke-width="3.2"/>
<line x1="803" y1="128.5" x2="798" y2="134" stroke="#111" stroke-width="1"/>
<line x1="820.5" y1="118" x2="803" y2="128.5" stroke="#111" stroke-width="6"/>
<line x1="819.81400565943" y1="118.41159660434202" x2="803.68599434057" y2="128.088403395658" stroke="#bbb" stroke-width="4"/>
<line x1="817.6702733451486" y1="113.283788908581" x2="823.3297266548514" y2="122.716211091419" stroke="#111" stroke-width="3.2"/>
<!-- bracket -->
<path d="M677,190 L692,198.3 L692,213.5 L677,205 Z" fill="#fff" stroke="#444" stroke-width="1"/>
<line x1="692" y1="198.3" x2="692" y2="213.5" stroke="#111" stroke-width="1.8"/>
<ellipse cx="684.4" cy="202.5" rx="2.6" ry="3" fill="#fff" stroke="#555" stroke-width="0.9"/>
<path d="M677,190 L784.2,127.5 L798.3,135 L692,198.3 Z" fill="#fff" stroke="#555" stroke-width="1"/>
<line x1="692" y1="199" x2="798.3" y2="136" stroke="#999" stroke-width="2.4"/>
<path d="M798.3,135 L798.3,150.5 L786.7,144" fill="none" stroke="#444" stroke-width="1.2"/>
<line x1="798.3" y1="135" x2="798.3" y2="150.5" stroke="#111" stroke-width="1.6"/>
<ellipse cx="726.3" cy="170.8" rx="4.3" ry="2.4" fill="#fff" stroke="#555" stroke-width="0.9" transform="rotate(-12 726.3 170.8)"/>
<ellipse cx="740.8" cy="161.7" rx="6.6" ry="3" fill="#fff" stroke="#555" stroke-width="0.9" transform="rotate(-20 740.8 161.7)"/>
<!-- anchors and screws -->
<line x1="710" y1="150" x2="710" y2="194" stroke="#111" stroke-width="1"/>
<line x1="769.2" y1="118" x2="769.2" y2="250" stroke="#111" stroke-width="1"/>
<g>
<path d="M706.6,113 A3.4,3.6 0 0 1 713.4,113 q2,1.65 0,3.3 q2,1.65 0,3.3 q2,1.65 0,3.3 q2,1.65 0,3.3 q2,1.65 0,3.3 L713.4,129.5 L706.6,129.5 L706.6,129.5 q-2,-1.65 0,-3.3 q-2,-1.65 0,-3.3 q-2,-1.65 0,-3.3 q-2,-1.65 0,-3.3 q-2,-1.65 0,-3.3 Z" fill="#fff" stroke="#111" stroke-width="1.4"/>
<line x1="710" y1="112" x2="710" y2="133" stroke="#111" stroke-width="1.1"/>
<path d="M703,133 L705.6,129.5 L714.4,129.5 L717,133 Z" fill="#fff" stroke="#111" stroke-width="1.3"/>
<rect x="705.6" y="133" width="8.8" height="20.5" fill="#fff" stroke="#111" stroke-width="1.4"/>
<line x1="710" y1="145" x2="710" y2="153" stroke="#111" stroke-width="1"/>
<ellipse cx="710" cy="153.5" rx="6" ry="1.9" fill="#fff" stroke="#111" stroke-width="2.2"/>
</g>
<g>
<path d="M765.8000000000001,79 A3.4,3.6 0 0 1 772.6,79 q2,1.65 0,3.3 q2,1.65 0,3.3 q2,1.65 0,3.3 q2,1.65 0,3.3 q2,1.65 0,3.3 L772.6,95.5 L765.8000000000001,95.5 L765.8000000000001,95.5 q-2,-1.65 0,-3.3 q-2,-1.65 0,-3.3 q-2,-1.65 0,-3.3 q-2,-1.65 0,-3.3 q-2,-1.65 0,-3.3 Z" fill="#fff" stroke="#111" stroke-width="1.4"/>
<line x1="769.2" y1="78" x2="769.2" y2="99" stroke="#111" stroke-width="1.1"/>
<path d="M762.2,99 L764.8000000000001,95.5 L773.6,95.5 L776.2,99 Z" fill="#fff" stroke="#111" stroke-width="1.3"/>
<rect x="764.8000000000001" y="99" width="8.8" height="20.5" fill="#fff" stroke="#111" stroke-width="1.4"/>
<line x1="769.2" y1="111" x2="769.2" y2="119" stroke="#111" stroke-width="1"/>
<ellipse cx="769.2" cy="119.5" rx="6" ry="1.9" fill="#fff" stroke="#111" stroke-width="2.2"/>
</g>
<ellipse cx="710" cy="180.5" rx="3.8" ry="2.3" fill="#fff" stroke="#111" stroke-width="1.6" transform="rotate(15 710 180.5)"/>
<ellipse cx="769.2" cy="144.8" rx="3.8" ry="2.3" fill="#fff" stroke="#111" stroke-width="1.6" transform="rotate(15 769.2 144.8)"/>
<path d="M710,193 L712.6,201 L712.4,216 L707.6,216 L707.4,201 Z" fill="#111"/>
<ellipse cx="710" cy="217.5" rx="4.4" ry="2.3" fill="#fff" stroke="#111" stroke-width="2"/>
<path d="M769.2,160.6 L771.8000000000001,168.6 L771.6,183.6 L766.8000000000001,183.6 L766.6,168.6 Z" fill="#111"/>
<ellipse cx="769.2" cy="185.1" rx="4.4" ry="2.3" fill="#fff" stroke="#111" stroke-width="2"/>
<!-- rotation 1 -->
<ellipse cx="768.6" cy="274" rx="19" ry="6" fill="none" stroke="#111" stroke-width="1.2"/>
<line x1="769.3" y1="280" x2="769.3" y2="258" stroke="#111" stroke-width="1"/>
<path d="M766.8,260 L769.3,255.5 L771.8,260 Z" fill="#111"/>
<path d="M781,267.5 L785.5,268.3 L782,271.5 Z" fill="#111"/>
<text x="797.6" y="280.6" font-family="Liberation Sans" font-weight="bold" font-size="20" fill="#111" text-anchor="middle" textLength="9" lengthAdjust="spacingAndGlyphs">1</text>
<!-- canopy 120 -->
<path d="M889.4,156.2 L889.4,135.4 L1033.75,135.4 L1033.75,156.2" fill="none" stroke="#c23cc6" stroke-width="1.2"/>
<text x="962.2" y="131.2" font-family="Liberation Sans" font-weight="bold" font-size="12" fill="#111" text-anchor="middle" textLength="21.7" lengthAdjust="spacingAndGlyphs">120</text>
<path d="M889.4,156.2 L1033.75,156.2 L1033.75,178.4 Q1033.75,180.4 1031.75,180.4 L891.4,180.4 Q889.4,180.4 889.4,178.4 Z" fill="#fff" stroke="#111" stroke-width="1.4"/>
<circle cx="961.6" cy="165.25" r="4" fill="#fff" stroke="#111" stroke-width="1.3"/>
<path d="M875.6,165 L896.6,165 M1026.6,165 L1047.6,165" stroke="#111" stroke-width="1.1"/>
<rect x="859" y="163" width="16.6" height="4.2" fill="#111"/>
<rect x="1047.6" y="163" width="17" height="4.2" fill="#111"/>
<path d="M860,163.6 v3 M862.5,163.6 v3 M865,163.6 v3 M867.5,163.6 v3 M870,163.6 v3 M872.5,163.6 v3 M1050,163.6 v3 M1052.5,163.6 v3 M1055,163.6 v3 M1057.5,163.6 v3 M1060,163.6 v3 M1062.5,163.6 v3" stroke="#888" stroke-width="0.6"/>
<circle cx="857.6" cy="165.1" r="2" fill="#fff" stroke="#999" stroke-width="0.8"/>
<circle cx="1066.2" cy="165.1" r="2" fill="#fff" stroke="#999" stroke-width="0.8"/>
<line x1="1072" y1="165.2" x2="1102.4" y2="165.2" stroke="#111" stroke-width="1.1"/>
<path d="M1069.5,165.2 L1074,162.6 L1074,167.8 Z" fill="#111"/>
<ellipse cx="1086.2" cy="165.25" rx="4.5" ry="15.3" fill="none" stroke="#111" stroke-width="1.3"/>
<path d="M1082,155 L1084.5,150.5 L1086,155.5 Z" fill="#111"/>
<text x="1087.3" y="203.2" font-family="Liberation Sans" font-weight="bold" font-size="21" fill="#111" text-anchor="middle" textLength="14" lengthAdjust="spacingAndGlyphs">8</text>
</g>
<!--/TOPRIGHT-->
<!--LEFTPANEL-->
<g id="leftpanel">
<!-- bubble 1 -->
<ellipse cx="333.5" cy="278" rx="65.2" ry="41.6" fill="#fff" stroke="#111" stroke-width="1.3"/>
<g transform="translate(318.1,241.8) scale(1)">
<path d="M-1.8,7.5 L-1.8,1.8 A1.8,1.8 0 0 1 1.8,1.8 L1.8,7.5 Z" fill="#111"/>
<path d="M-3.4,8.2 L-1.6,6.2 L1.6,6.2 L3.4,8.2 Z" fill="#111"/>
<rect x="-2.1" y="8.2" width="4.2" height="8.6" fill="#fff" stroke="#111" stroke-width="1"/>
</g><g transform="translate(353.9,241.8) scale(1)">
<path d="M-1.8,7.5 L-1.8,1.8 A1.8,1.8 0 0 1 1.8,1.8 L1.8,7.5 Z" fill="#111"/>
<path d="M-3.4,8.2 L-1.6,6.2 L1.6,6.2 L3.4,8.2 Z" fill="#111"/>
<rect x="-2.1" y="8.2" width="4.2" height="8.6" fill="#fff" stroke="#111" stroke-width="1"/>
</g>
<path d="M301.25,279 L301.25,266 L370.4,266 L370.4,279" fill="none" stroke="#111" stroke-width="2"/>
<g transform="translate(318.1,270) scale(1)">
<path d="M0,0 L1.7,3 L1.7,14.5 L3.3,16 L1.5,19.7 L-1.5,19.7 L-3.3,16 L-1.7,14.5 L-1.7,3 Z" fill="#111"/>
</g><g transform="translate(353.9,270) scale(1)">
<path d="M0,0 L1.7,3 L1.7,14.5 L3.3,16 L1.5,19.7 L-1.5,19.7 L-3.3,16 L-1.7,14.5 L-1.7,3 Z" fill="#111"/>
</g>
<g>
<path d="M313.6425,298.904 A10.45,3.4 0 1 0 319.39,298.76800000000003" fill="none" stroke="#111" stroke-width="1.1"/>
<path d="M311.96500000000003,297.1 L314.96500000000003,299.04 L312.165,300.30000000000007 Z" fill="#111"/>
<line x1="317.3" y1="305.5" x2="317.3" y2="293.6" stroke="#111" stroke-width="1"/>
<path d="M315.5,294.6 L317.3,291.1 L319.1,294.6 Z" fill="#111"/>
</g>
<text x="298.8" y="304.5" font-family="Liberation Sans" font-weight="bold" font-size="11.5" fill="#111" text-anchor="middle" textLength="5" lengthAdjust="spacingAndGlyphs">1</text>

<!-- wires to terminal -->
<path d="M366.5,345.4 C380,344 382,322 393,320.2 C402,318.5 408,323 417,322.5" fill="none" stroke="#111" stroke-width="1.5"/>
<path d="M377.5,354.3 C382,340 386,327 397,327 L416,327" fill="none" stroke="#111" stroke-width="2.2"/>
<!-- plate and terminal block -->
<path d="M417.4,332.6 L431,326.6 L448.5,329.6 L431.6,335.6 Z" fill="#fff" stroke="#111" stroke-width="1.2"/>
<circle cx="432.6" cy="331" r="0.9" fill="#111"/>
<path d="M416.5,318.5 L438,315 L442.2,318 L442.2,323.5 L420,327.3 L416.5,325 Z" fill="#fff" stroke="#111" stroke-width="1.2"/>
<path d="M416.5,318.5 L431,316 L431,325.2 L420,327.3 L416.5,325 Z" fill="#111"/>
<g fill="#111">
<rect x="420.4" y="309.6" width="4.4" height="8" rx="1.2"/><rect x="424.7" y="309.2" width="4.4" height="8" rx="1.2"/><rect x="429" y="310" width="4.4" height="7.6" rx="1.2"/><rect x="433.2" y="310.4" width="4.4" height="7" rx="1.2"/>
</g><g fill="#fff"><rect x="421.8" y="311.3" width="1.6" height="4.2"/><rect x="426.1" y="311" width="1.6" height="4.2"/><rect x="430.4" y="311.8" width="1.6" height="4"/><rect x="434.6" y="312.2" width="1.6" height="3.6"/></g>
<!-- bubble 7 -->
<path d="M442.6,319.3 L466.5,312" stroke="#111" stroke-width="1.1"/>
<path d="M442.6,319.3 L470.5,325.5" stroke="#111" stroke-width="1.1"/>
<path d="M466.5,312 A49.8,34.7 0 1 1 470.5,325.5" fill="#fff" stroke="#111" stroke-width="1.3"/>
<path d="M523.5,276.5 C525,286 518,296 513,305 M527,280 C529,292 520,298 516,305 M523.5,279 C532,290 530,302 520,308" fill="none" stroke="#111" stroke-width="1.6"/>
<path d="M506,319 C507,328 509,336 510.5,345 M509,319 C508,328 511,336 512.5,345 M514,319 C510,326 506,330 507,334" fill="none" stroke="#111" stroke-width="1.6"/>
<g stroke="#3a3ab0" stroke-width="1.2">
<line x1="504" y1="292.3" x2="521" y2="292.3"/><line x1="505.5" y1="298.3" x2="520" y2="298.3"/><line x1="531" y1="298.3" x2="540" y2="298.3"/>
<line x1="492" y1="322.3" x2="502" y2="322.3"/><line x1="514" y1="322.3" x2="525" y2="322.3"/><line x1="510" y1="326.6" x2="521" y2="326.6"/>
</g>
<g font-family="Liberation Serif" font-size="6.5" fill="#334">
<text x="499" y="294">N</text><text x="540" y="301">L</text><text x="487" y="324.5">N</text><text x="525.5" y="325">L</text>
</g>
<circle cx="502.9" cy="299" r="2.8" fill="#111"/><line x1="501.3" y1="299.3" x2="504.5" y2="299.3" stroke="#fff" stroke-width="0.8"/>
<circle cx="521.6" cy="326.8" r="3.3" fill="#111"/><path d="M520,327.5 h3.2 M521.6,325.8 v3.2" stroke="#fff" stroke-width="0.7"/>
<path d="M501.75,312.5 L522,311 L527.3,313 L527.3,317.6 L505,320.5 L501.75,318.5 Z" fill="#fff" stroke="#111" stroke-width="1.3"/>
<path d="M501.75,312.5 L513,311.5 L513,319 L505,320.5 L501.75,318.5 Z" fill="#111"/>
<g fill="#111">
<rect x="505.8" y="304.3" width="4.7" height="8.2" rx="1.2"/><rect x="509.9" y="303.9" width="4.7" height="8.2" rx="1.2"/><rect x="514" y="304.3" width="4.7" height="8" rx="1.2"/><rect x="518.1" y="304.9" width="4.7" height="7.4" rx="1.2"/>
</g><g fill="#fff"><rect x="507.3" y="306" width="1.7" height="4.8"/><rect x="511.4" y="305.6" width="1.7" height="4.8"/><rect x="515.5" y="306" width="1.7" height="4.6"/><rect x="519.6" y="306.6" width="1.7" height="4.2"/></g>
<path d="M548.3,304 L537.4,323.4 L559.9,323.4 Z" fill="none" stroke="#888" stroke-width="0.8"/>
<path d="M547,306.5 L543.6,315.8 L547.4,315 L545,323.5 L552.6,313 L548.6,313.8 L551.2,306.5 Z" fill="#111"/>
<text x="465" y="345.2" font-family="Liberation Sans" font-weight="bold" font-size="12.5" fill="#111" text-anchor="middle" textLength="6.5" lengthAdjust="spacingAndGlyphs">7</text>

<!-- arms -->
<path d="M342,435 L307.5,435 L263.6,406.2" fill="none" stroke="#111" stroke-width="6.0" stroke-linejoin="miter"/><path d="M342,435 L307.5,435 L263.6,406.2" fill="none" stroke="#fff" stroke-width="4.0" stroke-linejoin="miter"/>
<path d="M384,435 L428.5,435 L471.5,464.4" fill="none" stroke="#111" stroke-width="6.0" stroke-linejoin="miter"/><path d="M384,435 L428.5,435 L471.5,464.4" fill="none" stroke="#fff" stroke-width="4.0" stroke-linejoin="miter"/>
<path d="M303.5,436 L290.6,456.4" fill="none" stroke="#111" stroke-width="6.0" stroke-linejoin="miter"/><path d="M303.5,436 L290.6,456.4" fill="none" stroke="#fff" stroke-width="4.0" stroke-linejoin="miter"/>
<path d="M432.4,435.3 L444.75,416" fill="none" stroke="#111" stroke-width="6.0" stroke-linejoin="miter"/><path d="M432.4,435.3 L444.75,416" fill="none" stroke="#fff" stroke-width="4.0" stroke-linejoin="miter"/>
<circle cx="281.5" cy="468.5" r="15" fill="#fff" stroke="#333" stroke-width="1"/>
<circle cx="454.2" cy="401.5" r="15.2" fill="#fff" stroke="#333" stroke-width="1"/>
<g transform="translate(263.6,406.2) rotate(213.6)">
<g transform="translate(0,2.4)">
<path d="M19.5,-13.5 Q7.77,-12.3 0,-5.6 L0,5.6 Q7.77,12.3 19.5,13.5" fill="#fff" stroke="#111" stroke-width="1.4"/>
<path d="M23.5,-21.75 L77.0,-21.75 L77.0,21.75 L23.5,21.75 Q18.5,21.75 18.5,16.75 L18.5,-16.75 Q18.5,-21.75 23.5,-21.75 Z" fill="#fff"/>
<g fill="#111"><circle cx="25.02" cy="13.54" r="1.13"/><circle cx="26.15" cy="-3.00" r="0.89"/><circle cx="25.28" cy="9.28" r="0.59"/><circle cx="22.83" cy="9.91" r="0.50"/><circle cx="23.42" cy="-10.29" r="0.90"/><circle cx="24.18" cy="17.17" r="0.86"/><circle cx="22.61" cy="5.86" r="0.87"/><circle cx="22.04" cy="-15.29" r="0.98"/><circle cx="21.85" cy="18.29" r="0.59"/><circle cx="22.03" cy="13.30" r="1.04"/><circle cx="26.62" cy="-13.44" r="0.69"/><circle cx="19.91" cy="19.75" r="0.64"/><circle cx="26.66" cy="11.87" r="0.94"/><circle cx="20.13" cy="-3.29" r="0.75"/><circle cx="25.02" cy="14.88" r="0.53"/><circle cx="25.56" cy="19.39" r="0.64"/><circle cx="26.82" cy="1.77" r="0.95"/><circle cx="22.39" cy="6.45" r="0.54"/><circle cx="26.52" cy="6.14" r="0.64"/><circle cx="25.08" cy="-6.75" r="1.01"/><circle cx="23.49" cy="-12.46" r="1.11"/><circle cx="22.57" cy="11.11" r="0.65"/><circle cx="21.87" cy="-5.52" r="0.71"/><circle cx="20.76" cy="-1.39" r="0.78"/><circle cx="26.02" cy="-10.40" r="1.02"/><circle cx="25.11" cy="-15.28" r="0.57"/><path d="M22.79,3.14 l-0.20,1.62" stroke="#111" stroke-width="1.1"/><path d="M23.29,7.90 l-1.21,0.79" stroke="#111" stroke-width="1.1"/><path d="M25.29,-9.71 l1.21,0.65" stroke="#111" stroke-width="1.1"/><path d="M21.34,-4.02 l0.33,1.93" stroke="#111" stroke-width="1.1"/><path d="M21.67,-7.97 l-0.20,1.33" stroke="#111" stroke-width="1.1"/><path d="M22.65,12.40 l1.21,0.11" stroke="#111" stroke-width="1.1"/></g><g fill="#111"><circle cx="71.59" cy="-3.51" r="0.76"/><circle cx="70.61" cy="-16.36" r="0.52"/><circle cx="69.19" cy="16.27" r="0.70"/><circle cx="69.07" cy="20.52" r="0.90"/><circle cx="71.54" cy="-14.42" r="1.12"/><circle cx="73.70" cy="17.84" r="0.63"/><circle cx="74.96" cy="-1.83" r="0.83"/><circle cx="76.26" cy="16.58" r="0.59"/><circle cx="68.57" cy="-3.95" r="1.03"/><circle cx="73.89" cy="7.85" r="1.05"/><circle cx="71.88" cy="-3.44" r="0.89"/><circle cx="70.00" cy="11.44" r="0.92"/><circle cx="74.45" cy="15.92" r="1.10"/><circle cx="71.35" cy="-9.15" r="0.81"/><circle cx="70.29" cy="-11.87" r="0.61"/><circle cx="73.14" cy="-17.26" r="0.80"/><circle cx="75.14" cy="-19.85" r="0.89"/><circle cx="68.71" cy="3.53" r="1.04"/><circle cx="68.82" cy="12.38" r="1.04"/><circle cx="72.95" cy="-16.31" r="1.13"/><circle cx="73.04" cy="-0.39" r="1.10"/><circle cx="73.13" cy="14.67" r="0.79"/><circle cx="69.03" cy="8.48" r="0.51"/><circle cx="73.84" cy="-1.32" r="1.12"/><circle cx="72.52" cy="-18.47" r="1.11"/><circle cx="73.48" cy="-20.33" r="0.71"/><path d="M71.86,5.53 l1.43,0.16" stroke="#111" stroke-width="1.1"/><path d="M70.88,2.08 l-1.15,1.52" stroke="#111" stroke-width="1.1"/><path d="M75.84,-13.54 l-0.96,1.00" stroke="#111" stroke-width="1.1"/><path d="M75.90,10.44 l-0.77,1.14" stroke="#111" stroke-width="1.1"/><path d="M75.55,6.61 l-1.62,1.17" stroke="#111" stroke-width="1.1"/><path d="M74.35,13.67 l-2.06,0.65" stroke="#111" stroke-width="1.1"/></g>

<path d="M23.5,-21.75 L77.0,-21.75 L77.0,21.75 L23.5,21.75 Q18.5,21.75 18.5,16.75 L18.5,-16.75 Q18.5,-21.75 23.5,-21.75 Z M27.5,-21.75 L27.5,21.75 M67.5,-21.75 L67.5,21.75" fill="none" stroke="#111" stroke-width="1.5"/>
</g></g>
<g transform="translate(471.5,464.4) rotate(33.6)">
<g transform="translate(0,2.3)">
<path d="M19.5,-13.5 Q7.77,-12.3 0,-5.6 L0,5.6 Q7.77,12.3 19.5,13.5" fill="#fff" stroke="#111" stroke-width="1.4"/>
<path d="M23.5,-21.75 L77.0,-21.75 L77.0,21.75 L23.5,21.75 Q18.5,21.75 18.5,16.75 L18.5,-16.75 Q18.5,-21.75 23.5,-21.75 Z" fill="#fff"/>
<g fill="#111"><circle cx="26.77" cy="18.09" r="0.54"/><circle cx="21.77" cy="-1.53" r="0.71"/><circle cx="21.39" cy="-5.79" r="0.55"/><circle cx="23.46" cy="5.91" r="1.11"/><circle cx="21.61" cy="8.24" r="1.03"/><circle cx="26.32" cy="-3.88" r="0.64"/><circle cx="22.23" cy="-11.74" r="0.52"/><circle cx="22.66" cy="-13.25" r="0.88"/><circle cx="20.63" cy="12.54" r="0.65"/><circle cx="21.76" cy="-7.46" r="0.60"/><circle cx="19.71" cy="-17.08" r="0.89"/><circle cx="24.01" cy="-5.94" r="0.64"/><circle cx="25.47" cy="19.66" r="0.79"/><circle cx="22.79" cy="13.83" r="0.96"/><circle cx="22.24" cy="-13.32" r="1.15"/><circle cx="22.12" cy="10.54" r="0.55"/><circle cx="26.24" cy="19.51" r="0.95"/><circle cx="24.39" cy="6.54" r="0.73"/><circle cx="19.70" cy="-0.60" r="0.94"/><circle cx="22.85" cy="-0.73" r="1.11"/><circle cx="20.86" cy="18.58" r="0.76"/><circle cx="20.03" cy="-15.95" r="0.94"/><circle cx="23.60" cy="4.42" r="0.95"/><circle cx="23.41" cy="-18.68" r="0.70"/><circle cx="21.01" cy="-16.70" r="0.97"/><circle cx="22.03" cy="1.06" r="0.76"/><path d="M21.79,3.38 l-1.10,1.04" stroke="#111" stroke-width="1.1"/><path d="M20.54,-2.84 l-0.33,1.20" stroke="#111" stroke-width="1.1"/><path d="M25.84,12.20 l-0.64,1.29" stroke="#111" stroke-width="1.1"/><path d="M21.38,-8.29 l-1.39,0.96" stroke="#111" stroke-width="1.1"/><path d="M22.54,16.66 l-1.42,0.33" stroke="#111" stroke-width="1.1"/><path d="M22.26,3.57 l-1.53,0.78" stroke="#111" stroke-width="1.1"/></g><g fill="#111"><circle cx="70.36" cy="2.02" r="0.90"/><circle cx="70.01" cy="-9.34" r="0.61"/><circle cx="70.95" cy="14.55" r="1.11"/><circle cx="71.71" cy="10.92" r="1.06"/><circle cx="74.86" cy="-2.29" r="0.84"/><circle cx="68.52" cy="-5.12" r="1.08"/><circle cx="75.33" cy="-17.69" r="0.55"/><circle cx="72.09" cy="-19.98" r="0.51"/><circle cx="74.89" cy="7.67" r="0.61"/><circle cx="70.15" cy="-1.25" r="1.13"/><circle cx="68.13" cy="10.41" r="0.95"/><circle cx="69.11" cy="-10.64" r="0.91"/><circle cx="73.95" cy="-15.50" r="1.00"/><circle cx="72.66" cy="-11.72" r="0.88"/><circle cx="73.42" cy="3.09" r="0.83"/><circle cx="74.94" cy="-11.63" r="0.84"/><circle cx="70.73" cy="3.26" r="0.99"/><circle cx="73.59" cy="-17.07" r="0.59"/><circle cx="70.67" cy="-6.89" r="0.62"/><circle cx="72.75" cy="-14.05" r="0.93"/><circle cx="71.41" cy="11.09" r="0.72"/><circle cx="70.94" cy="10.30" r="0.60"/><circle cx="68.63" cy="4.80" r="0.57"/><circle cx="74.38" cy="-0.92" r="0.99"/><circle cx="69.63" cy="6.76" r="0.53"/><circle cx="74.71" cy="8.29" r="1.08"/><path d="M69.94,0.65 l1.10,0.55" stroke="#111" stroke-width="1.1"/><path d="M74.03,9.81 l1.31,1.65" stroke="#111" stroke-width="1.1"/><path d="M73.19,1.25 l-0.54,1.54" stroke="#111" stroke-width="1.1"/><path d="M71.64,9.91 l1.17,1.73" stroke="#111" stroke-width="1.1"/><path d="M69.56,-5.91 l-0.11,1.74" stroke="#111" stroke-width="1.1"/><path d="M72.85,8.96 l0.25,1.51" stroke="#111" stroke-width="1.1"/></g>
<rect x="10.8" y="-8.5" width="3.6" height="17" fill="#aaa"/>
<rect x="22" y="-9" width="11" height="20" fill="#aaa"/>
<rect x="39" y="-11" width="4" height="25.5" rx="2" fill="#fff" stroke="#aaa" stroke-width="1.3"/>
<line x1="34" y1="0.8" x2="86.0" y2="0.8" stroke="#111" stroke-width="1.3"/>
<path d="M23.5,-21.75 L77.0,-21.75 L77.0,21.75 L23.5,21.75 Q18.5,21.75 18.5,16.75 L18.5,-16.75 Q18.5,-21.75 23.5,-21.75 Z M27.5,-21.75 L27.5,21.75 M67.5,-21.75 L67.5,21.75" fill="none" stroke="#111" stroke-width="1.5"/>
</g></g>
<!-- stem and canopy -->
<rect x="357.8" y="367" width="11" height="60.5" fill="#fff" stroke="#111" stroke-width="1.2"/>
<rect x="333.1" y="354.5" width="60.4" height="13" fill="#fff" stroke="#111" stroke-width="1.4"/>
<line x1="355.5" y1="358" x2="371.1" y2="358" stroke="#111" stroke-width="1.6"/>
<line x1="363.3" y1="350" x2="363.3" y2="361" stroke="#111" stroke-width="1"/>
<rect x="360.3" y="361" width="6.5" height="6.3" fill="#111"/>
<path d="M333.1,361.2 h6 M387.5,361.2 h6" stroke="#111" stroke-width="1.1"/>
<g fill="#111">
<ellipse cx="363.3" cy="337" rx="3.8" ry="1.8"/><ellipse cx="363.3" cy="340.8" rx="4.2" ry="2"/><ellipse cx="363.3" cy="344.6" rx="4.2" ry="2"/><ellipse cx="363.3" cy="348.4" rx="4.2" ry="2"/>
</g>
<line x1="363.3" y1="334" x2="363.3" y2="352" stroke="#111" stroke-width="1.2"/>
<path d="M322,361.3 L331,361.3" stroke="#111" stroke-width="2.6"/><path d="M320.5,361.3 L324,359 L324,363.6 Z" fill="#111"/>
<path d="M397.5,361.3 L404,361.3" stroke="#111" stroke-width="2.6"/><path d="M406,361.3 L402.5,359 L402.5,363.6 Z" fill="#111"/>
<ellipse cx="304.4" cy="361.9" rx="3" ry="10" fill="none" stroke="#111" stroke-width="1.2"/>
<line x1="301" y1="361.5" x2="313" y2="361.5" stroke="#111" stroke-width="1"/><path d="M315.5,361.5 L311.5,359.2 L311.5,363.8 Z" fill="#111"/>
<text x="347.3" y="344.6" font-family="Liberation Sans" font-weight="bold" font-size="11.5" fill="#111" text-anchor="middle" textLength="8.3" lengthAdjust="spacingAndGlyphs">6</text>
<text x="303.5" y="388.6" font-family="Liberation Sans" font-weight="bold" font-size="11.5" fill="#111" text-anchor="middle" textLength="8.3" lengthAdjust="spacingAndGlyphs">8</text>

<!-- hub block -->
<rect x="343" y="427.4" width="40.5" height="15.35" fill="#fff" stroke="#111" stroke-width="1.3"/>
<rect x="344" y="431" width="6" height="8" fill="#111"/>
<rect x="378" y="431.5" width="5" height="7" fill="#111"/>
<rect x="386" y="432" width="7.6" height="5.5" fill="#111"/>
<rect x="359.5" y="428" width="8.5" height="6" fill="#111"/>
<rect x="361.5" y="434" width="5" height="8" fill="#ccc" stroke="#111" stroke-width="0.8"/>
<path d="M360,441 L366,440 L367,446 L361,447 Z" fill="#111"/>
<g fill="none" stroke="#111" stroke-width="3.2">
<path d="M350,436 C356,438 352,446 340,448 C334,449 328,452 323,456"/>
<path d="M361,437 C356,444 350,450 338,452 C332,453 330,456 326,460"/>
<path d="M379,436 C370,438 372,449 363,451 C350,453 340,452 330,455"/>
</g>
<g fill="none" stroke="#fff" stroke-width="1.2">
<path d="M350,436 C356,438 352,446 340,448 C334,449 328,452 323,456"/>
<path d="M361,437 C356,444 350,450 338,452 C332,453 330,456 326,460"/>
<path d="M379,436 C370,438 372,449 363,451 C350,453 340,452 330,455"/>
</g>
<!-- bubble 3 -->
<path d="M319,464.5 A12.2,12.2 0 1 0 314.5,460.5 L315.5,467.5 Z" fill="none" stroke="#111" stroke-width="1.1"/>
<path d="M321,451 L329,447 L331,451 L324,456 Z M326,457 L333,452 L335,456 L328,461 Z" fill="#111"/>
<path d="M327,450 C335,447 338,446 345,445 M330,455 C337,451 340,450 348,449" stroke="#111" stroke-width="2.4" fill="none"/>
<!-- disk 4, axis 5 -->
<line x1="363.3" y1="442" x2="363.3" y2="478" stroke="#111" stroke-width="1"/>
<rect x="342.3" y="464.5" width="41.6" height="3" rx="1.5" fill="#bbb" stroke="#111" stroke-width="0.9"/>
<line x1="384" y1="466" x2="395" y2="466" stroke="#666" stroke-width="1"/>
<path d="M397.4,476.5 L397.4,463 L395.3,463 L398.7,456.7 L402,463 L400,463 L400,476.5 Z" fill="#bbb" stroke="#111" stroke-width="0.9"/>
<rect x="359.7" y="478" width="7.5" height="3.8" fill="#fff" stroke="#111" stroke-width="1"/>
<g>
<path d="M360.0,490.18 A10,3 0 1 0 365.5,490.06" fill="none" stroke="#111" stroke-width="1.1"/>
<path d="M358.3,488.4 L361.3,490.3 L358.5,491.6 Z" fill="#111"/>
<line x1="363.5" y1="496" x2="363.5" y2="484" stroke="#111" stroke-width="1"/>
<path d="M361.7,485 L363.5,481.5 L365.3,485 Z" fill="#111"/>
</g>
<!-- arrow 2 -->
<path d="M400.5,424.8 L406,421.8 L406,423.6 L420,423.6 L420,426 L406,426 L406,427.8 Z" fill="#fff" stroke="#111" stroke-width="0.9"/>
<rect x="408" y="423.6" width="12" height="2.4" fill="#999"/>
<line x1="413.3" y1="426" x2="413.3" y2="432.6" stroke="#111" stroke-width="1"/>
<g font-family="Liberation Sans" font-weight="bold" font-size="11.5" fill="#111" text-anchor="middle">
<text x="414.8" y="417.6" textLength="8.3" lengthAdjust="spacingAndGlyphs">2</text><text x="326.3" y="483.6" textLength="8.3" lengthAdjust="spacingAndGlyphs">3</text><text x="409.5" y="475.4" textLength="9" lengthAdjust="spacingAndGlyphs">4</text><text x="363.8" y="511.4" textLength="8.3" lengthAdjust="spacingAndGlyphs">5</text>
<text x="543.3" y="465.2" textLength="8.5" lengthAdjust="spacingAndGlyphs">9</text><text x="490" y="548.1" textLength="14.8" lengthAdjust="spacingAndGlyphs">10</text><text x="562.4" y="565.5" textLength="10.6" lengthAdjust="spacingAndGlyphs">11</text>
</g>
<!-- arrow 9 -->
<line x1="528.2" y1="475.8" x2="531.2" y2="470" stroke="#111" stroke-width="1"/>
<path d="M521.3,458.9 L528.8,460.6 L527.6,462.6 L537.8,469 L536.6,471 L526.4,464.6 L525.2,466.6 Z" fill="#fff" stroke="#111" stroke-width="1"/>
<!-- bulb -->
<g transform="translate(548.5,517.5) rotate(33.7)">
<line x1="-12" y1="0" x2="-6" y2="0" stroke="#111" stroke-width="1.2"/>
<circle cx="19.5" cy="0.3" r="11.1" fill="#fffce0" stroke="#111" stroke-width="1.3"/>
<path d="M-6.5,-4.2 Q-6.5,-5.5 -5,-5.5 L6,-5.5 Q10,-5.2 11,-3 L11,3 Q10,5.2 6,5.5 L-5,5.5 Q-6.5,5.5 -6.5,4.2 Z" fill="#111"/>
<path d="M-3,-5.5 v11 M0,-5.5 v11 M3,-5.5 v11" stroke="#666" stroke-width="0.5"/>
<path d="M11,-6 Q14,-4 13,-1" fill="none" stroke="#e8d640" stroke-width="1.4"/>
<path d="M16,-4 L21,-1 L17,3 L23,5 L21,-2" fill="none" stroke="#e03020" stroke-width="1.4"/>
</g>
<!-- rotation 10 / 11 -->
<line x1="499.2" y1="500.2" x2="486.5" y2="518.1" stroke="#111" stroke-width="1.2"/>
<circle cx="499.2" cy="500.2" r="1.3" fill="#111"/>
<ellipse cx="480.2" cy="530" rx="4" ry="12.5" transform="rotate(38 480.2 530)" fill="none" stroke="#111" stroke-width="1.2"/>
<line x1="473" y1="523.5" x2="486" y2="532" stroke="#111" stroke-width="0.9"/><path d="M472,522.5 L476,523 L474,526 Z" fill="#111"/>
<ellipse cx="551.2" cy="548.8" rx="3.8" ry="12" transform="rotate(38 551.2 548.8)" fill="none" stroke="#111" stroke-width="1.2"/>
<line x1="545" y1="542.5" x2="557" y2="550" stroke="#111" stroke-width="0.9"/><path d="M544,541.5 L548,542 L546,545 Z" fill="#111"/>
</g>
<!--/LEFTPANEL-->
</svg>
</body></html>
